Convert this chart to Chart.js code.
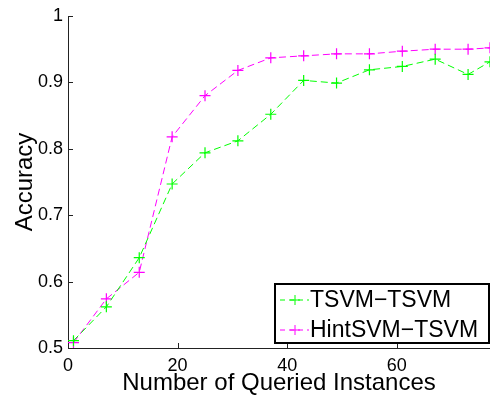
<!DOCTYPE html>
<html>
<head>
<meta charset="utf-8">
<script src="https://cdn.jsdelivr.net/npm/chart.js@4"></script>
<style>
  body { margin: 0; background: #fff; }
  canvas { display: block; }
</style>
</head>
<body>
<canvas id="myChart" width="490" height="398" style="width:490px;height:398px"></canvas>
<script>
// queried instances (x) and accuracy for each method
var queried = [1, 7, 13, 19, 25, 31, 37, 43, 49, 55, 61, 67, 73, 77];
var tsvmTsvm = [0.511, 0.562, 0.636, 0.747, 0.794, 0.812, 0.852, 0.903, 0.899, 0.919, 0.924, 0.935, 0.912, 0.931];
var hintsvmTsvm = [0.508, 0.574, 0.614, 0.818, 0.880, 0.918, 0.937, 0.940, 0.943, 0.943, 0.947, 0.950, 0.950, 0.952];
var seriesNames = ['TSVM\u2212TSVM', 'HintSVM\u2212TSVM'];

var xTicks = [0, 20, 40, 60];
var yTicks = [0.5, 0.6, 0.7, 0.8, 0.9, 1];
var yTickLabels = ['0.5', '0.6', '0.7', '0.8', '0.9', '1'];

var FONT = '"Liberation Sans", Arial, Helvetica, sans-serif';

function toPoints(xs, ys) {
  return xs.map(function(x, i) { return { x: x, y: ys[i] }; });
}

// ticks drawn inside the axes, MATLAB style
var innerTicks = {
  id: 'innerTicks',
  afterDatasetsDraw: function(chart) {
    var c = chart.ctx, a = chart.chartArea;
    var xs = chart.scales.x, ys = chart.scales.y;
    c.save();
    c.strokeStyle = '#222';
    c.lineWidth = 1;
    c.beginPath();
    xTicks.forEach(function(v) {
      var px = Math.round(xs.getPixelForValue(v)) + 0.5;
      c.moveTo(px, a.bottom);
      c.lineTo(px, a.bottom - 5);
    });
    yTicks.forEach(function(v) {
      var py = Math.round(ys.getPixelForValue(v)) + 0.5;
      c.moveTo(a.left, py);
      c.lineTo(a.left + 5, py);
    });
    c.stroke();
    c.restore();
  }
};

// boxed legend in the lower right corner of the plot
var boxLegend = {
  id: 'boxLegend',
  afterDraw: function(chart) {
    var c = chart.ctx, a = chart.chartArea;
    var w = 214, h = 59;
    var bx = a.right - w - 1, by = a.bottom - h - 5;
    c.save();
    c.fillStyle = '#fff';
    c.fillRect(bx, by, w, h);
    c.strokeStyle = '#000';
    c.lineWidth = 2;
    c.strokeRect(bx, by, w, h);
    chart.data.datasets.forEach(function(ds, i) {
      var cy = by + 16 + i * 30;
      c.strokeStyle = ds.borderColor;
      c.lineWidth = 1;
      c.setLineDash([5, 4]);
      c.beginPath();
      c.moveTo(bx + 5, cy);
      c.lineTo(bx + 34, cy);
      c.stroke();
      c.setLineDash([]);
      c.beginPath();
      c.moveTo(bx + 15, cy);
      c.lineTo(bx + 25, cy);
      c.moveTo(bx + 20, cy - 5);
      c.lineTo(bx + 20, cy + 5);
      c.stroke();
      c.fillStyle = '#000';
      c.font = '23px ' + FONT;
      c.textBaseline = 'alphabetic';
      c.fillText(ds.label, bx + 35, cy + 7);
    });
    c.restore();
  }
};

var ctx = document.getElementById('myChart').getContext('2d');
var chart = new Chart(ctx, {
  type: 'line',
  data: {
    datasets: [{
      label: seriesNames[0],
      data: toPoints(queried, tsvmTsvm),
      borderColor: '#00ff00',
      backgroundColor: '#00ff00',
      borderWidth: 1,
      borderDash: [7, 4],
      pointStyle: 'cross',
      pointRadius: 5.5,
      pointBorderWidth: 1.2,
      tension: 0,
      fill: false
    }, {
      label: seriesNames[1],
      data: toPoints(queried, hintsvmTsvm),
      borderColor: '#ff00ff',
      backgroundColor: '#ff00ff',
      borderWidth: 1,
      borderDash: [7, 4],
      pointStyle: 'cross',
      pointRadius: 5.5,
      pointBorderWidth: 1.2,
      tension: 0,
      fill: false
    }]
  },
  options: {
    responsive: false,
    animation: false,
    layout: { autoPadding: false, padding: { top: 16, right: 0, bottom: 0, left: 0 } },
    plugins: {
      legend: { display: false },
      tooltip: { enabled: false }
    },
    scales: {
      x: {
        type: 'linear',
        min: 0,
        max: 77,
        afterBuildTicks: function(scale) {
          scale.ticks = xTicks.map(function(v) { return { value: v }; });
        },
        afterFit: function(scale) {
          scale.height = 50;
          scale.paddingRight = 0;
          scale.paddingLeft = 0;
        },
        grid: { drawOnChartArea: false, drawTicks: false },
        border: { color: '#222', width: 1 },
        ticks: {
          padding: 7,
          color: '#000',
          font: { family: FONT, size: 18 },
          maxRotation: 0
        },
        title: {
          display: true,
          text: 'Number of Queried Instances',
          color: '#000',
          font: { family: FONT, size: 24 },
          padding: { top: -4, bottom: 0 }
        }
      },
      y: {
        min: 0.5,
        max: 1,
        afterBuildTicks: function(scale) {
          scale.ticks = yTicks.map(function(v) { return { value: v }; });
        },
        afterFit: function(scale) { scale.width = 68; },
        grid: { drawOnChartArea: false, drawTicks: false },
        border: { color: '#222', width: 1 },
        ticks: {
          padding: 5,
          color: '#000',
          font: { family: FONT, size: 18 },
          callback: function(value, index) { return yTickLabels[index]; }
        },
        title: {
          display: true,
          text: 'Accuracy',
          color: '#000',
          font: { family: FONT, size: 24 },
          padding: { top: 11, bottom: 0 }
        }
      }
    }
  },
  plugins: [innerTicks, boxLegend]
});
</script>
</body>
</html>
